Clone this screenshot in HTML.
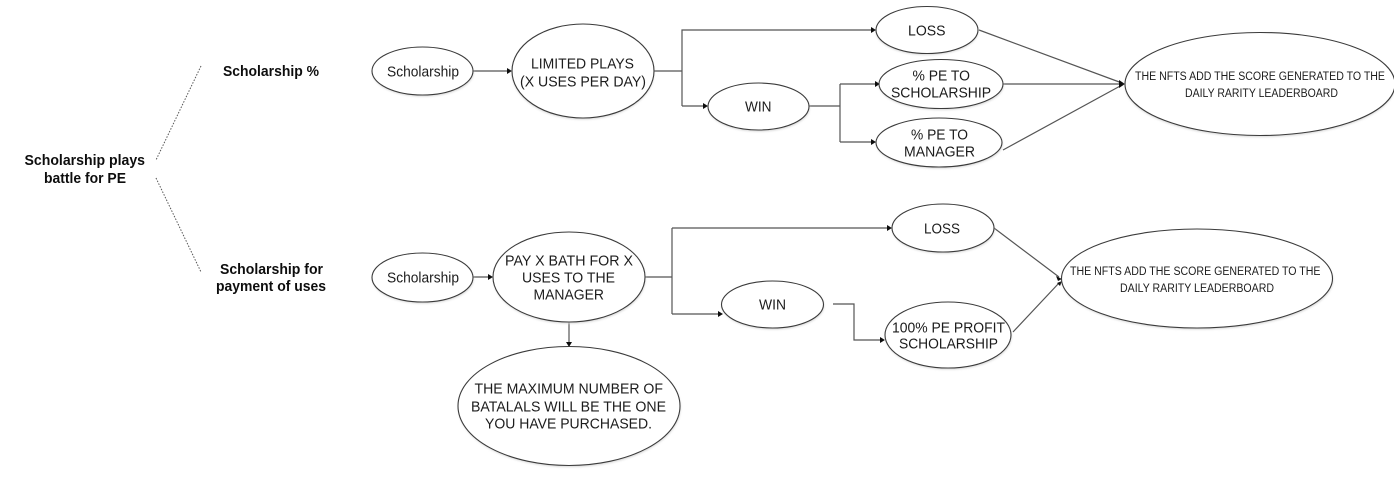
<!DOCTYPE html>
<html lang="en">
<head>
<meta charset="utf-8">
<title>Scholarship diagram</title>
<style>
html,body{margin:0;padding:0;background:#fff;width:1400px;height:480px;overflow:hidden}
svg{display:block}
text{font-family:"Liberation Sans",Arial,sans-serif;font-size:15px;fill:#1c1c1c;text-anchor:start;dominant-baseline:central;transform:translateY(1px)}
text.b{font-size:14.5px;font-weight:bold;fill:#111}
text.s{font-size:11.5px}
.e{fill:#fff;stroke:#3a3a3a;stroke-width:1.1}
.sh{fill:#d6d6d6;filter:url(#blur)}
.c{fill:none;stroke:#555;stroke-width:1.2}
.d{fill:none;stroke:#555;stroke-width:1;stroke-dasharray:1.5 1.5}
.a{fill:#111}
.soft{filter:url(#soft)}
</style>
</head>
<body>
<svg width="1400" height="480" viewBox="0 0 1400 480" xmlns="http://www.w3.org/2000/svg">
<defs>
<filter id="blur" x="-10%" y="-10%" width="120%" height="120%"><feGaussianBlur stdDeviation="1"/></filter>
<filter id="soft" x="0" y="0" width="100%" height="100%" filterUnits="objectBoundingBox"><feGaussianBlur stdDeviation="0.3"/></filter>
<clipPath id="clip"><rect x="0" y="0" width="1394" height="480"/></clipPath>
</defs>
<rect width="1400" height="480" fill="#fff"/>
<g class="soft">
<rect width="1400" height="480" fill="#fff"/>

<!-- dotted -->
<path class="d" d="M201 66L156 160M156 178L201 272"/>

<!-- connectors -->
<path class="c" d="M473 71H509"/>
<path class="c" d="M654 71H682M682 106V30H873M682 106H705"/>
<path class="c" d="M809 106H840M840 84V142M840 84H877M840 142H873"/>
<path class="c" d="M979 30L1122 83M1003 84H1122M1003 150L1122 85"/>
<path class="c" d="M473 277H490"/>
<path class="c" d="M645 277H672M672 228V314M672 228H889M672 314H720"/>
<path class="c" d="M569 322V344"/>
<path class="c" d="M833 304H854V340H882"/>
<path class="c" d="M994 228L1059 277M1013 332L1059 283"/>

<!-- arrowheads -->
<path class="a" d="M512 71l-5 -3v6z"/>
<path class="a" d="M876 30l-5 -3v6z"/>
<path class="a" d="M708 106l-5 -3v6z"/>
<path class="a" d="M880 84l-5 -3v6z"/>
<path class="a" d="M876 142l-5 -3v6z"/>
<path class="a" d="M1125 84l-6 -4v8z"/>
<path class="a" d="M493 277l-5 -3v6z"/>
<path class="a" d="M892 228l-5 -3v6z"/>
<path class="a" d="M723 314l-5 -3v6z"/>
<path class="a" d="M569 347l-3 -5h6z"/>
<path class="a" d="M885 340l-5 -3v6z"/>
<path class="a" d="M1062 279l-6 -3l2 5z"/>
<path class="a" d="M1062 281l-5 2l3 3z"/>

<!-- shadows -->
<g>
<ellipse class="sh" cx="423" cy="72.5" rx="50.5" ry="24"/>
<ellipse class="sh" cx="583" cy="72.5" rx="71" ry="47"/>
<ellipse class="sh" cx="927" cy="31.5" rx="51" ry="23.5"/>
<ellipse class="sh" cx="759" cy="108" rx="50.5" ry="23.5"/>
<ellipse class="sh" cx="941.5" cy="85.5" rx="62" ry="24.5"/>
<ellipse class="sh" cx="939.5" cy="144" rx="63" ry="24.5"/>
<g clip-path="url(#clip)"><ellipse class="sh" cx="1260" cy="85.5" rx="135" ry="51.5"/></g>
<ellipse class="sh" cx="423" cy="279" rx="50.5" ry="24.5"/>
<ellipse class="sh" cx="569.5" cy="278.5" rx="76" ry="45"/>
<ellipse class="sh" cx="943.5" cy="229.5" rx="51" ry="24"/>
<ellipse class="sh" cx="773" cy="306" rx="51" ry="23.5"/>
<ellipse class="sh" cx="948.5" cy="336.5" rx="63" ry="33"/>
<ellipse class="sh" cx="1197.5" cy="280" rx="135.5" ry="49.5"/>
<ellipse class="sh" cx="569.5" cy="407.5" rx="111" ry="59.5"/>
</g>

<!-- ellipses -->
<ellipse class="e" cx="422.5" cy="71" rx="50.5" ry="24"/>
<ellipse class="e" cx="583" cy="71" rx="71" ry="47"/>
<ellipse class="e" cx="927" cy="30" rx="51" ry="23.5"/>
<ellipse class="e" cx="758.5" cy="106.5" rx="50.5" ry="23.5"/>
<ellipse class="e" cx="941" cy="84" rx="62" ry="24.5"/>
<ellipse class="e" cx="939" cy="142.5" rx="63" ry="24.5"/>
<g clip-path="url(#clip)"><ellipse class="e" cx="1260" cy="84" rx="135" ry="51.5"/></g>
<ellipse class="e" cx="422.5" cy="277.5" rx="50.5" ry="24.5"/>
<ellipse class="e" cx="569" cy="277" rx="76" ry="45"/>
<ellipse class="e" cx="943" cy="228" rx="51" ry="24"/>
<ellipse class="e" cx="772.5" cy="304.5" rx="51" ry="23.5"/>
<ellipse class="e" cx="948" cy="335" rx="63" ry="33"/>
<ellipse class="e" cx="1197" cy="278.5" rx="135.5" ry="49.5"/>
<ellipse class="e" cx="569" cy="406" rx="111" ry="59.5"/>

<!-- bold labels -->
<text class="b" x="223" y="71" textLength="96" lengthAdjust="spacingAndGlyphs">Scholarship %</text>
<text class="b" x="24.5" y="160" textLength="120.5" lengthAdjust="spacingAndGlyphs">Scholarship plays</text>
<text class="b" x="44" y="178" textLength="82" lengthAdjust="spacingAndGlyphs">battle for PE</text>
<text class="b" x="220" y="269" textLength="103" lengthAdjust="spacingAndGlyphs">Scholarship for</text>
<text class="b" x="216" y="286" textLength="110" lengthAdjust="spacingAndGlyphs">payment of uses</text>

<!-- node labels -->
<text x="387" y="71" textLength="72" lengthAdjust="spacingAndGlyphs">Scholarship</text>
<text x="531" y="63" textLength="103" lengthAdjust="spacingAndGlyphs">LIMITED PLAYS</text>
<text x="520" y="81" textLength="126" lengthAdjust="spacingAndGlyphs">(X USES PER DAY)</text>
<text x="908" y="30" textLength="37.5" lengthAdjust="spacingAndGlyphs">LOSS</text>
<text x="745" y="106" textLength="26.5" lengthAdjust="spacingAndGlyphs">WIN</text>
<text x="912.5" y="75" textLength="57.5" lengthAdjust="spacingAndGlyphs">% PE TO</text>
<text x="891" y="92" textLength="100" lengthAdjust="spacingAndGlyphs">SCHOLARSHIP</text>
<text x="911" y="134" textLength="57" lengthAdjust="spacingAndGlyphs">% PE TO</text>
<text x="904" y="151" textLength="71" lengthAdjust="spacingAndGlyphs">MANAGER</text>
<text class="s" x="1135" y="76" textLength="250" lengthAdjust="spacingAndGlyphs">THE NFTS ADD THE SCORE GENERATED TO THE</text>
<text class="s" x="1185" y="93" textLength="153" lengthAdjust="spacingAndGlyphs">DAILY RARITY LEADERBOARD</text>

<text x="387" y="277" textLength="72" lengthAdjust="spacingAndGlyphs">Scholarship</text>
<text x="505" y="260" textLength="128" lengthAdjust="spacingAndGlyphs">PAY X BATH FOR X</text>
<text x="522" y="277" textLength="93" lengthAdjust="spacingAndGlyphs">USES TO THE</text>
<text x="533.5" y="294" textLength="70.5" lengthAdjust="spacingAndGlyphs">MANAGER</text>
<text x="474.5" y="388" textLength="188.5" lengthAdjust="spacingAndGlyphs">THE MAXIMUM NUMBER OF</text>
<text x="471" y="406" textLength="195" lengthAdjust="spacingAndGlyphs">BATALALS WILL BE THE ONE</text>
<text x="485" y="423" textLength="167" lengthAdjust="spacingAndGlyphs">YOU HAVE PURCHASED.</text>
<text x="924" y="228" textLength="36" lengthAdjust="spacingAndGlyphs">LOSS</text>
<text x="759" y="304" textLength="27" lengthAdjust="spacingAndGlyphs">WIN</text>
<text x="892" y="327" textLength="113" lengthAdjust="spacingAndGlyphs">100% PE PROFIT</text>
<text x="899" y="343" textLength="99" lengthAdjust="spacingAndGlyphs">SCHOLARSHIP</text>
<text class="s" x="1070" y="271" textLength="250.5" lengthAdjust="spacingAndGlyphs">THE NFTS ADD THE SCORE GENERATED TO THE</text>
<text class="s" x="1120" y="288" textLength="154" lengthAdjust="spacingAndGlyphs">DAILY RARITY LEADERBOARD</text>
</g>
</svg>
</body>
</html>
